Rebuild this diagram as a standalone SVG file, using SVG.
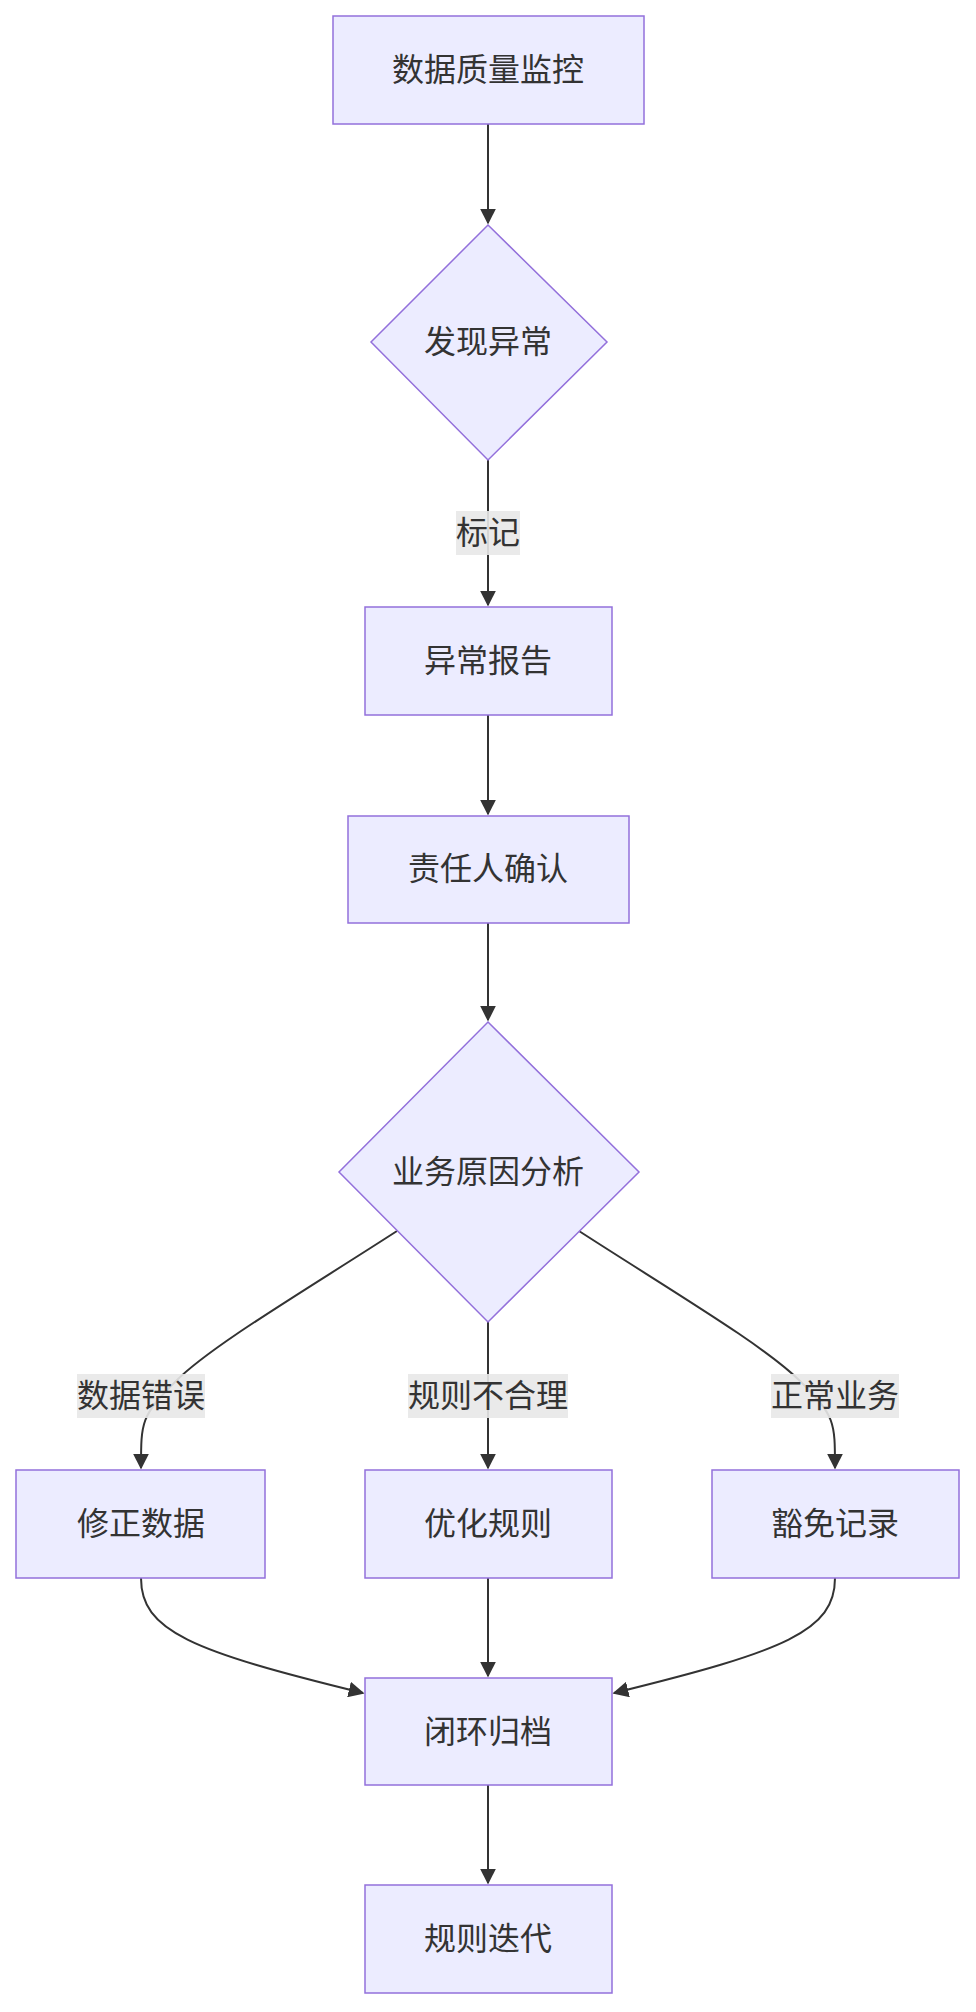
<svg xmlns="http://www.w3.org/2000/svg" width="976" height="2012" viewBox="0 0 976 2012">
<style>
.n{fill:#ECECFF;stroke:#9370DB;stroke-width:1.5}
.t{font-family:"Liberation Sans","Noto Sans CJK SC",sans-serif;font-size:32px;fill:#333;text-anchor:middle;dominant-baseline:central}
.e{fill:none;stroke:#333;stroke-width:2}
.lb{fill:#e8e8e8;opacity:0.9}
</style>
<defs><marker id="a" viewBox="0 0 10 10" refX="9" refY="5" markerWidth="8" markerHeight="8" orient="auto"><path d="M0,0L10,5L0,10z" fill="#333"/></marker></defs>
<rect width="976" height="2012" fill="#fff"/>
<g transform="translate(1,1)">
<g id="edges">
<path class="e" d="M487,123V222" marker-end="url(#a)"/>
<path class="e" d="M487,459V604" marker-end="url(#a)"/>
<path class="e" d="M487,714V813" marker-end="url(#a)"/>
<path class="e" d="M487,922V1019" marker-end="url(#a)"/>
<path class="e" d="M396,1230C300,1292 210,1345 175,1380S140,1420 140,1467" marker-end="url(#a)"/>
<path class="e" d="M487,1321V1467" marker-end="url(#a)"/>
<path class="e" d="M578,1230C674,1292 764,1345 799,1380S834,1420 834,1467" marker-end="url(#a)"/>
<path class="e" d="M140,1577C140,1630 190,1650 362,1692" marker-end="url(#a)"/>
<path class="e" d="M487,1577V1675" marker-end="url(#a)"/>
<path class="e" d="M834,1577C834,1630 784,1650 613,1692" marker-end="url(#a)"/>
<path class="e" d="M487,1784V1882" marker-end="url(#a)"/>
</g>
<g id="labels">
<rect class="lb" x="455" y="510" width="64" height="44"/><text class="t" x="487" y="532">标记</text>
<rect class="lb" x="76" y="1373" width="128" height="44"/><text class="t" x="140" y="1395">数据错误</text>
<rect class="lb" x="407" y="1373" width="160" height="44"/><text class="t" x="487" y="1395">规则不合理</text>
<rect class="lb" x="770" y="1373" width="128" height="44"/><text class="t" x="834" y="1395">正常业务</text>
</g>
<g id="n1"><rect class="n" x="332" y="15" width="311" height="108"/><text class="t" x="487" y="69">数据质量监控</text></g>
<g id="n2"><path class="n" d="M487,224L606,341L487,459L370,341Z"/><text class="t" x="487" y="341">发现异常</text></g>
<g id="n3"><rect class="n" x="364" y="606" width="247" height="108"/><text class="t" x="487" y="660">异常报告</text></g>
<g id="n4"><rect class="n" x="347" y="815" width="281" height="107"/><text class="t" x="487" y="868">责任人确认</text></g>
<g id="n5"><path class="n" d="M487,1021L638,1171L487,1321L338,1171Z"/><text class="t" x="487" y="1171">业务原因分析</text></g>
<g id="n6"><rect class="n" x="15" y="1469" width="249" height="108"/><text class="t" x="140" y="1523">修正数据</text></g>
<g id="n7"><rect class="n" x="364" y="1469" width="247" height="108"/><text class="t" x="487" y="1523">优化规则</text></g>
<g id="n8"><rect class="n" x="711" y="1469" width="247" height="108"/><text class="t" x="834" y="1523">豁免记录</text></g>
<g id="n9"><rect class="n" x="364" y="1677" width="247" height="107"/><text class="t" x="487" y="1731">闭环归档</text></g>
<g id="n10"><rect class="n" x="364" y="1884" width="247" height="108"/><text class="t" x="487" y="1938">规则迭代</text></g>
</g>
</svg>
